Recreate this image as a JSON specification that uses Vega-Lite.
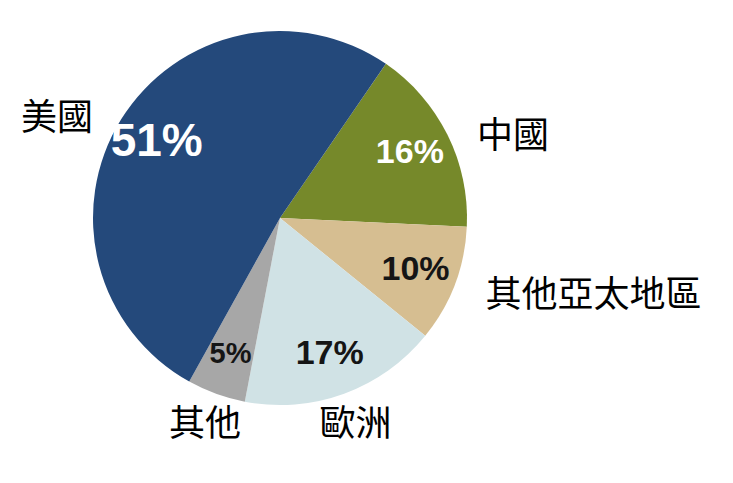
{
  "$schema": "https://vega.github.io/schema/vega-lite/v6.json",
  "width": 374,
  "height": 374,
  "autosize": "none",
  "padding": {"left": 93, "top": 31, "right": 266, "bottom": 78},
  "background": "white",
  "view": {"stroke": null},
  "data": {
    "values": [
      {"region": "中國", "pct": 16, "label": "16%", "order": 1},
      {"region": "其他亞太地區", "pct": 10, "label": "10%", "order": 2},
      {"region": "歐洲", "pct": 17, "label": "17%", "order": 3},
      {"region": "其他", "pct": 5, "label": "5%", "order": 4},
      {"region": "美國", "pct": 51, "label": "51%", "order": 5}
    ]
  },
  "encoding": {
    "theta": {
      "field": "pct",
      "type": "quantitative",
      "stack": true,
      "scale": {"range": [0.602, 6.885]}
    },
    "order": {"field": "order", "type": "ordinal"}
  },
  "layer": [
    {
      "mark": {"type": "arc", "outerRadius": 187, "stroke": null},
      "encoding": {
        "color": {
          "field": "region",
          "type": "nominal",
          "scale": {
            "domain": ["中國", "其他亞太地區", "歐洲", "其他", "美國"],
            "range": ["#76892a", "#d6be91", "#d0e2e5", "#a7a7a7", "#24497b"]
          },
          "legend": null
        }
      }
    },
    {
      "mark": {
        "type": "text",
        "radius": 145,
        "font": "Liberation Sans",
        "fontWeight": "bold",
        "baseline": "middle",
        "fontSize": {"expr": "datum.region === '美國' ? 46 : datum.region === '其他' ? 29 : 34"}
      },
      "encoding": {
        "text": {"field": "label"},
        "color": {
          "condition": {"test": "datum.region === '美國' || datum.region === '中國'", "value": "white"},
          "value": "#151515"
        }
      }
    },
    {
      "mark": {
        "type": "text",
        "radius": 220,
        "font": "Noto Sans CJK TC",
        "fontSize": 36,
        "color": "#000000",
        "baseline": {"expr": "(datum.region === '美國' || datum.region === '中國') ? 'top' : 'middle'"},
        "align": {"expr": "datum.region === '美國' ? 'right' : (datum.region === '中國' || datum.region === '其他亞太地區') ? 'left' : 'center'"}
      },
      "encoding": {
        "text": {"field": "region"}
      }
    }
  ]
}
